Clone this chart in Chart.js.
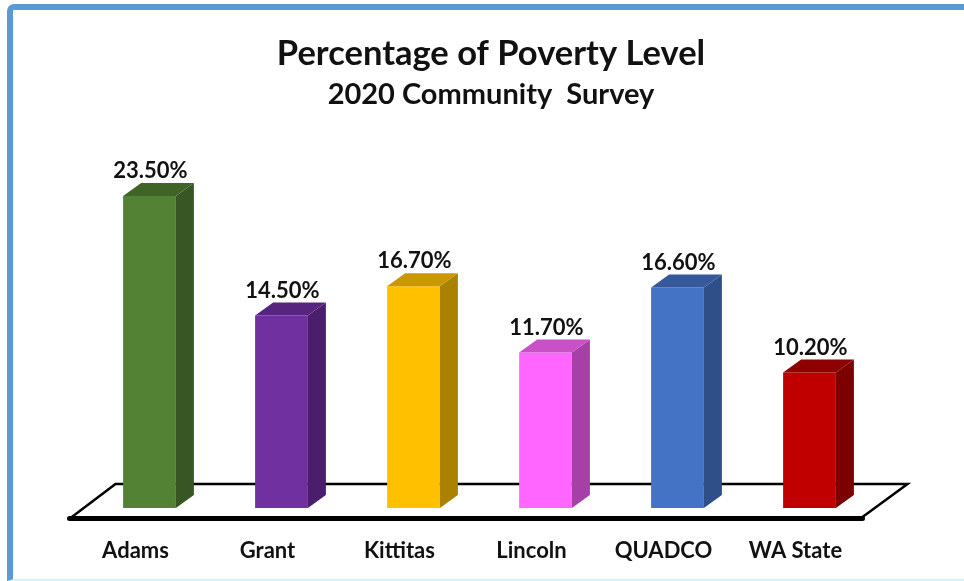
<!DOCTYPE html>
<html>
<head>
<meta charset="utf-8">
<title>Percentage of Poverty Level</title>
<script src="https://cdn.jsdelivr.net/npm/chart.js@4"></script>
<style>
  html, body { margin: 0; padding: 0; background: #fff; overflow: hidden; }
  #frame {
    position: absolute; left: 7px; top: 4px; width: 970px; height: 569px;
    border-left: 6px solid #5b9bd5; border-top: 6px solid #5b9bd5;
    border-top-left-radius: 7px;
    border-bottom: 2px solid #d4f1fb;
  }
  #myChart { position: absolute; left: 0; top: 0; }
</style>
</head>
<body>
<div id="frame"></div>
<canvas id="myChart" width="964" height="581"></canvas>
<script>
var categories = ["Adams", "Grant", "Kittitas", "Lincoln", "QUADCO", "WA State"];
var poverty = [23.5, 14.5, 16.7, 11.7, 16.6, 10.2];
var frontColors = ["#548235", "#7030a0", "#ffc000", "#ff66ff", "#4472c4", "#c00000"];
var sideColors = ["#375623", "#4a1e6c", "#ab8100", "#a63fa6", "#2f4f88", "#7b0000"];
var topColors = ["#3f6426", "#57257f", "#c99700", "#c851c8", "#35599a", "#8f0000"];

var FONT = "Lato, 'Open Sans', sans-serif";
var DEPTH_X = 18, DEPTH_Y = 13; // fake 3d offset of the bars

// the floor slab under the bars
var floorPlugin = {
  id: "floor",
  beforeDatasetsDraw: function (chart) {
    var ctx = chart.ctx, a = chart.chartArea;
    ctx.save();
    ctx.strokeStyle = "#000";
    ctx.lineWidth = 2.5;
    ctx.lineJoin = "miter";
    ctx.beginPath();
    ctx.moveTo(a.left - 13, a.bottom + 10);
    ctx.lineTo(a.left + 32, a.bottom - 24);
    ctx.lineTo(a.right + 32, a.bottom - 24);
    ctx.lineTo(a.right - 13, a.bottom + 9);
    ctx.stroke();
    ctx.lineWidth = 5;
    ctx.lineCap = "round";
    ctx.beginPath();
    ctx.moveTo(a.left - 14, a.bottom + 10.5);
    ctx.lineTo(a.right - 13, a.bottom + 10.5);
    ctx.stroke();
    ctx.restore();
  }
};

// side + top faces and the value labels
var bars3dPlugin = {
  id: "bars3d",
  afterDatasetsDraw: function (chart) {
    var ctx = chart.ctx, a = chart.chartArea;
    ctx.save();
    chart.getDatasetMeta(0).data.forEach(function (bar, i) {
      var l = bar.x - bar.width / 2, r = bar.x + bar.width / 2, t = bar.y, b = a.bottom;
      ctx.fillStyle = sideColors[i];
      ctx.beginPath();
      ctx.moveTo(r, t);
      ctx.lineTo(r + DEPTH_X, t - DEPTH_Y);
      ctx.lineTo(r + DEPTH_X, b - DEPTH_Y);
      ctx.lineTo(r, b);
      ctx.closePath();
      ctx.fill();
      ctx.fillStyle = topColors[i];
      ctx.beginPath();
      ctx.moveTo(l, t);
      ctx.lineTo(l + DEPTH_X, t - DEPTH_Y);
      ctx.lineTo(r + DEPTH_X, t - DEPTH_Y);
      ctx.lineTo(r, t);
      ctx.closePath();
      ctx.fill();
      ctx.fillStyle = "#111";
      ctx.font = "bold 22px " + FONT;
      ctx.textAlign = "center";
      ctx.textBaseline = "middle";
      ctx.fillText(poverty[i].toFixed(2) + "%", bar.x + 1, t - 25);
    });
    ctx.restore();
  }
};

var ctx = document.getElementById("myChart").getContext("2d");
var myChart = new Chart(ctx, {
  type: "bar",
  data: {
    labels: categories,
    datasets: [{
      label: "Percentage of Poverty Level",
      data: poverty,
      backgroundColor: frontColors,
      barPercentage: 0.4,
      categoryPercentage: 1
    }]
  },
  plugins: [floorPlugin, bars3dPlugin],
  options: {
    responsive: false,
    animation: false,
    layout: { padding: { left: 18, right: 0, top: 33, bottom: 0 } },
    plugins: {
      legend: { display: false },
      tooltip: { enabled: false },
      title: {
        display: true,
        text: "Percentage of Poverty Level",
        color: "#111",
        font: { family: FONT, size: 34.5, weight: "bold", lineHeight: 1.2 },
        padding: { top: 0, bottom: 3 }
      },
      subtitle: {
        display: true,
        text: "2020 Community  Survey",
        color: "#111",
        font: { family: FONT, size: 29, weight: "bold", lineHeight: 1.2 },
        padding: { top: 0, bottom: 63.8 }
      }
    },
    scales: {
      x: {
        grid: { display: false },
        border: { display: false },
        ticks: { color: "#111", padding: 22, labelOffset: -14, font: { family: FONT, size: 22, weight: "bold" } },
        afterFit: function (axis) { axis.height = 73; }
      },
      y: {
        min: 0,
        max: 25,
        grid: { display: false },
        border: { display: false },
        ticks: { display: false },
        afterFit: function (axis) { axis.width = 65.5; }
      },
      // empty axis, only keeps the plot off the right edge so the title stays centred
      yRight: {
        position: "right",
        display: true,
        grid: { display: false },
        border: { display: false },
        ticks: { display: false },
        afterFit: function (axis) { axis.width = 88.5; }
      }
    }
  }
});
</script>
</body>
</html>
